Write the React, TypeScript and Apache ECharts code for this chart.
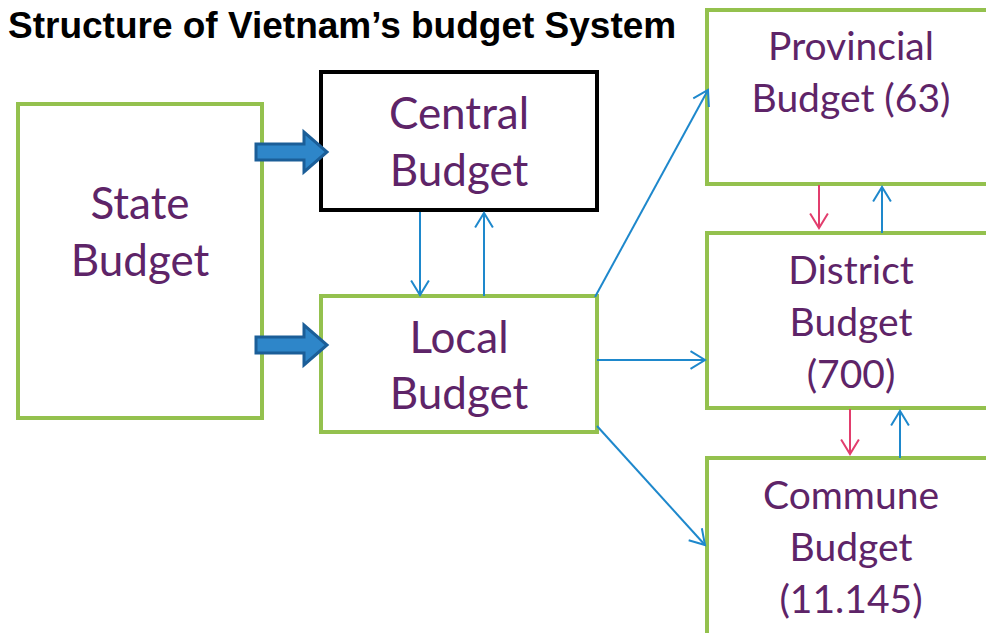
import React, { useEffect, useRef } from "react";
import * as echarts from "echarts";

const title = "Structure of Vietnam\u2019s budget System";
const nodeNames = ["State", "Central", "Local", "Provincial", "District", "Commune"];
const nodeLabels = [
  "State\nBudget",
  "Central\nBudget",
  "Local\nBudget",
  "Provincial\nBudget (63)",
  "District\nBudget\n(700)",
  "Commune\nBudget\n(11.145)",
];
// edges: [from, to, kind]
const edges: [string, string, string][] = [
  ["State", "Central", "thick"],
  ["State", "Local", "thick"],
  ["Central", "Local", "blue"],
  ["Local", "Central", "blue"],
  ["Local", "Provincial", "blue"],
  ["Local", "District", "blue"],
  ["Local", "Commune", "blue"],
  ["Provincial", "District", "pink"],
  ["District", "Provincial", "blue"],
  ["District", "Commune", "pink"],
  ["Commune", "District", "blue"],
];

// layout (positions / sizes)
const boxLayout: Record<string, { x: number; y: number; w: number; h: number; border: string; fs: number; lh: number }> = {
  State: { x: 18, y: 104, w: 244, h: 314, border: "#94C14E", fs: 44, lh: 57 },
  Central: { x: 321, y: 72, w: 276, h: 138, border: "#000000", fs: 44, lh: 57 },
  Local: { x: 321, y: 296, w: 276, h: 136, border: "#94C14E", fs: 44, lh: 56 },
  Provincial: { x: 707, y: 10, w: 290, h: 174, border: "#94C14E", fs: 39, lh: 52 },
  District: { x: 707, y: 233, w: 290, h: 175, border: "#94C14E", fs: 39, lh: 52 },
  Commune: { x: 707, y: 458, w: 290, h: 180, border: "#94C14E", fs: 39, lh: 52 },
};
const textCenters: Record<string, [number, number]> = {
  State: [140, 230],
  Central: [459, 140],
  Local: [459, 364],
  Provincial: [851, 71],
  District: [851, 321],
  Commune: [851, 546],
};
const edgeGeom: [number, number, number, number][] = [
  [256, 152, 327, 152],
  [256, 345, 327, 345],
  [420, 212, 420, 295],
  [484, 296, 484, 213],
  [595, 297, 708, 90],
  [597, 360, 705, 360],
  [597, 426, 705, 545],
  [819, 185, 819, 228],
  [882, 233, 882, 187],
  [850, 409, 850, 454],
  [900, 458, 900, 411],
];

const BLUE = "#1E88CC";
const PINK = "#E23D6D";
const TEXT = "#5E2468";

function arrowHead(x1: number, y1: number, x2: number, y2: number, len: number) {
  const a = Math.atan2(y2 - y1, x2 - x1);
  const s = 0.55;
  return [
    [x2 - len * Math.cos(a - s), y2 - len * Math.sin(a - s)],
    [x2, y2],
    [x2 - len * Math.cos(a + s), y2 - len * Math.sin(a + s)],
  ];
}

export default function App() {
  const ref = useRef<HTMLDivElement>(null);
  useEffect(() => {
    if (!ref.current) return;
    const chart = echarts.init(ref.current, undefined, { renderer: "svg" });
    const elements: any[] = [];
    nodeNames.forEach((n, i) => {
      const b = boxLayout[n];
      elements.push({
        type: "rect",
        shape: { x: b.x, y: b.y, width: b.w, height: b.h },
        style: { fill: "#ffffff", stroke: b.border, lineWidth: 4 },
        z: 1,
      });
      const c = textCenters[n];
      elements.push({
        type: "text",
        x: c[0],
        y: c[1],
        z: 3,
        style: {
          text: nodeLabels[i],
          fill: TEXT,
          font: `${b.fs}px Lato, "Open Sans", sans-serif`,
          lineHeight: b.lh,
          align: "center",
          verticalAlign: "middle",
        },
      });
    });
    edges.forEach((e, i) => {
      const [x1, y1, x2, y2] = edgeGeom[i];
      if (e[2] === "thick") {
        const hx = 304;
        elements.push({
          type: "polygon",
          z: 4,
          shape: {
            points: [
              [x1, y1 - 8],
              [hx, y1 - 8],
              [hx, y1 - 20],
              [x2, y1],
              [hx, y1 + 20],
              [hx, y1 + 8],
              [x1, y1 + 8],
            ],
          },
          style: { fill: "#2E86C9", stroke: "#1B5E98", lineWidth: 3, lineJoin: "miter" },
        });
      } else {
        const col = e[2] === "pink" ? PINK : BLUE;
        elements.push({
          type: "line",
          z: 4,
          shape: { x1, y1, x2, y2 },
          style: { stroke: col, lineWidth: 2 },
        });
        elements.push({
          type: "polyline",
          z: 4,
          shape: { points: arrowHead(x1, y1, x2, y2, 17) },
          style: { stroke: col, lineWidth: 2, fill: null },
        });
      }
    });
    elements.push({
      type: "text",
      x: 8,
      y: 25,
      z: 5,
      style: {
        text: title,
        fill: "#000000",
        font: 'bold 37px "Liberation Sans", Arial, sans-serif',
        align: "left",
        verticalAlign: "middle",
      },
    });
    chart.setOption({ animation: false, backgroundColor: "#ffffff", graphic: { elements } });
    return () => chart.dispose();
  }, []);
  return (
    <div
      ref={ref}
      style={{ position: "fixed", left: 0, top: 0, width: 986, height: 633 }}
    />
  );
}
